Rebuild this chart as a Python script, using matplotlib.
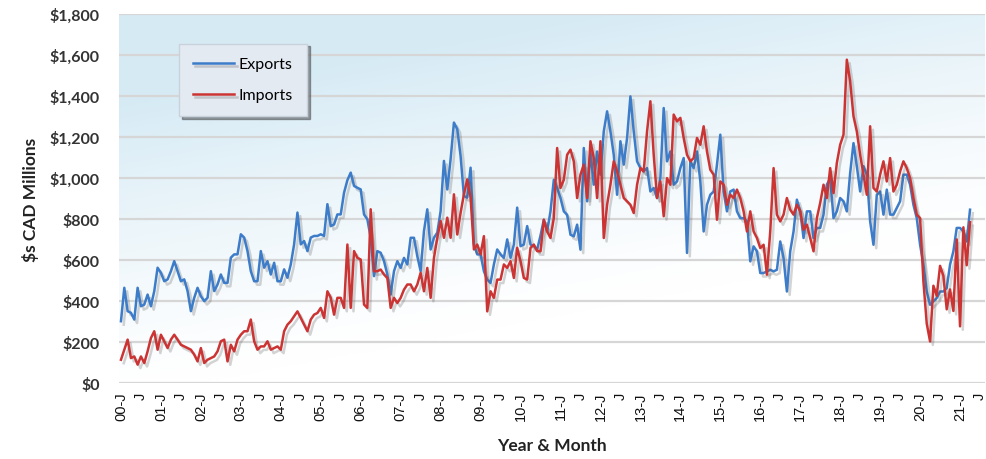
import numpy as np
import matplotlib
matplotlib.use("Agg")
import matplotlib.pyplot as plt
import matplotlib.patheffects as pe

# Monthly trade values, $ CAD millions, Jan 2000 - Apr 2021
exports = [
    302, 465, 351, 343, 310, 465, 375, 383, 432, 375, 449, 563,
    538, 497, 506, 546, 595, 546, 497, 506, 449, 351, 416, 465,
    424, 400, 416, 546, 449, 481, 530, 489, 489, 612, 628, 628,
    726, 710, 644, 546, 497, 497, 644, 563, 595, 530, 587, 497,
    497, 555, 514, 579, 677, 832, 677, 693, 644, 710, 718, 718,
    726, 718, 873, 766, 774, 823, 823, 929, 990, 1027, 962, 953,
    945, 823, 799, 709, 522, 644, 636, 595, 530, 432, 546, 595,
    562, 611, 579, 709, 709, 619, 546, 742, 848, 652, 709, 734,
    839, 1084, 945, 1092, 1271, 1239, 1108, 913, 905, 1051, 676, 628,
    628, 546, 505, 489, 579, 652, 628, 611, 701, 611, 676, 856,
    668, 676, 766, 676, 668, 652, 720, 797, 740, 838, 992, 952,
    903, 838, 821, 724, 716, 773, 651, 1147, 887, 1130, 968, 1130,
    1017, 1228, 1326, 1228, 1114, 919, 1180, 1066, 1196, 1399, 1228, 1082,
    1049, 1033, 1049, 935, 952, 903, 1000, 1342, 1082, 1130, 968, 984,
    1049, 1098, 635, 1082, 1049, 1130, 984, 740, 870, 919, 935, 1066,
    1212, 935, 838, 935, 944, 838, 805, 805, 789, 594, 667, 643,
    537, 537, 545, 553, 545, 553, 691, 610, 447, 643, 740, 895,
    838, 708, 838, 838, 708, 757, 757, 822, 968, 1000, 805, 838,
    903, 887, 838, 1025, 1171, 1058, 935, 1058, 1017, 789, 675, 919,
    935, 822, 944, 822, 822, 854, 887, 1017, 1017, 968, 870, 805,
    675, 578, 447, 382, 399, 415, 447, 447, 464, 578, 643, 757,
    757, 740, 691, 846,
]
imports = [
    114, 163, 212, 122, 130, 90, 130, 98, 155, 220, 253, 163,
    236, 204, 171, 212, 236, 212, 187, 179, 171, 163, 139, 106,
    171, 98, 114, 122, 130, 155, 204, 212, 106, 187, 155, 212,
    236, 253, 253, 310, 204, 163, 179, 179, 204, 163, 171, 179,
    163, 253, 285, 302, 326, 350, 318, 285, 253, 310, 334, 342,
    367, 318, 448, 416, 334, 416, 416, 367, 676, 367, 644, 611,
    603, 383, 367, 848, 546, 546, 554, 530, 513, 367, 416, 391,
    416, 456, 481, 481, 448, 481, 538, 448, 562, 416, 611, 709,
    791, 709, 807, 709, 921, 725, 831, 921, 994, 905, 652, 676,
    628, 717, 350, 448, 416, 505, 505, 579, 562, 595, 513, 660,
    595, 513, 505, 660, 676, 644, 643, 797, 740, 708, 805, 1147,
    952, 992, 1114, 1139, 1082, 903, 1017, 1066, 903, 1180, 1098, 903,
    1180, 708, 870, 968, 1082, 1033, 968, 903, 887, 870, 830, 968,
    1049, 1033, 1228, 1375, 1114, 903, 984, 814, 1000, 968, 1310, 1277,
    1294, 1196, 1114, 1082, 1098, 1196, 1163, 1253, 1130, 1041, 1017, 797,
    984, 968, 870, 919, 903, 944, 903, 838, 740, 838, 740, 708,
    659, 675, 529, 740, 1049, 822, 789, 822, 903, 846, 822, 870,
    838, 748, 773, 708, 643, 805, 879, 968, 903, 1049, 927, 1074,
    1163, 1212, 1578, 1472, 1302, 1228, 1114, 1017, 919, 1253, 952, 935,
    1017, 1082, 984, 1098, 935, 968, 1033, 1082, 1049, 1000, 903, 822,
    805, 496, 290, 203, 475, 426, 572, 523, 360, 457, 352, 701,
    277, 760, 575, 785,
]

years = list(range(0, 22))
tick_pos = list(range(0, 22 * 12, 6))
tick_labels = []
for y in years:
    tick_labels += [f"{y:02d}-J", "J"]

blue = "#3d7cc9"
red = "#cc3434"

fig = plt.figure(figsize=(9.86, 4.6), dpi=100)
ax = fig.add_axes([0.121, 0.165, 0.878, 0.802])

# soft diagonal blue wash behind the plot
gx, gy = np.meshgrid(np.linspace(0, 1, 300), np.linspace(0, 1, 200))
t = np.clip(1.25 * gy - 0.55 * gx + 0.05, 0, 1) ** 1.3
c0 = np.array([1.0, 1.0, 1.0])
c1 = np.array([0.84, 0.92, 0.96])
img = c0 + (c1 - c0) * t[..., None]
ax.imshow(img, extent=[0, 1, 0, 1], transform=ax.transAxes, origin="lower",
          aspect="auto", zorder=0)

for v in range(0, 1801, 200):
    ax.axhline(v, color="#d6d6d6", lw=1.6, zorder=1)

x = np.arange(len(exports))
shadow = [pe.SimpleLineShadow(offset=(2, -2.5), shadow_color="#555555", alpha=0.25),
          pe.Normal()]
ax.plot(x, exports, color=blue, lw=1.8, label="Exports", zorder=3,
        path_effects=shadow)
ax.plot(x, imports, color=red, lw=1.8, label="Imports", zorder=4,
        path_effects=shadow)

ax.set_xlim(-0.5, 259.5)
ax.set_ylim(0, 1800)
ax.set_yticks(range(0, 1801, 200))
ax.set_yticklabels([f"${v:,}" for v in range(0, 1801, 200)],
                   fontsize=11.5, fontweight="bold", color="#333333", family="Lato")
ax.set_xticks(tick_pos)
ax.set_xticklabels(tick_labels, rotation=90, fontsize=10.5, color="#111111",
                   family="Liberation Sans")
ax.tick_params(axis="both", length=0)
ax.tick_params(axis="x", pad=6)
ax.tick_params(axis="y", pad=14)
for s in ax.spines.values():
    s.set_visible(False)

ax.set_ylabel("$s CAD Millions", fontsize=12.5, fontweight="bold", color="#222222",
              family="Lato", labelpad=8)
ax.set_xlabel("Year & Month", fontsize=12.5, fontweight="bold", color="#222222",
              family="Lato", labelpad=12)

leg = ax.legend(loc="upper left", bbox_to_anchor=(0.069, 0.92), frameon=True,
                fancybox=False, shadow=True, borderpad=0.85, labelspacing=1.05,
                handlelength=2.6, handletextpad=0.3, borderaxespad=0,
                prop={"family": "Lato", "size": 11.5})
leg.get_frame().set_facecolor("#e4eaf1")
leg.get_frame().set_edgecolor("#c9d1db")
leg.get_frame().set_alpha(1)

fig.savefig("out.png", dpi=100)
